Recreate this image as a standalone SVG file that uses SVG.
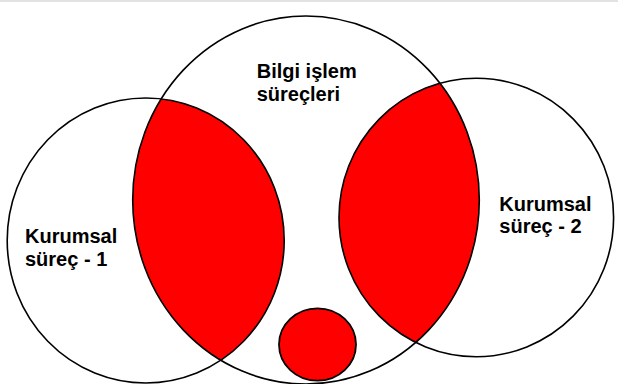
<svg xmlns="http://www.w3.org/2000/svg" width="618" height="384" viewBox="0 0 618 384">
  <style>
    .outline { fill: none; stroke: #000; stroke-width: 1.6; }
    .red { fill: #ff0000; }
    .lbl { font-family: "Liberation Sans", Arial, sans-serif; font-weight: bold; font-size: 20px; fill: #000; }
  </style>
  <defs>
    <clipPath id="clipCenter">
      <ellipse cx="306" cy="200" rx="173.3" ry="184"/>
    </clipPath>
  </defs>
  <rect x="0" y="0" width="618" height="384" fill="#ffffff"/>
  <rect x="0" y="0" width="618" height="2" fill="#e2e2e2"/>

  <g id="lens-left" clip-path="url(#clipCenter)">
    <ellipse class="red" cx="145.7" cy="240.5" rx="138.5" ry="142.5"/>
  </g>
  <g id="lens-right" clip-path="url(#clipCenter)">
    <ellipse class="red" cx="476.3" cy="217.5" rx="137.3" ry="139.2"/>
  </g>

  <g id="kurumsal-1">
    <ellipse class="outline" cx="145.7" cy="240.5" rx="138.5" ry="142.5"/>
    <text class="lbl" x="25" y="243.3">Kurumsal</text>
    <text class="lbl" x="25" y="265.7">süreç - 1</text>
  </g>
  <g id="bilgi-islem">
    <ellipse class="outline" cx="306" cy="200" rx="173.3" ry="184"/>
    <text class="lbl" x="256.7" y="77.5">Bilgi işlem</text>
    <text class="lbl" x="256.7" y="100.7">süreçleri</text>
  </g>
  <g id="kurumsal-2">
    <ellipse class="outline" cx="476.3" cy="217.5" rx="137.3" ry="139.2"/>
    <text class="lbl" x="499.3" y="211">Kurumsal</text>
    <text class="lbl" x="499.3" y="233.3">süreç - 2</text>
  </g>
  <g id="small-circle">
    <ellipse cx="317.5" cy="344.5" rx="38.5" ry="36.2" fill="#ff0000" stroke="#000" stroke-width="1.8"/>
  </g>
</svg>
